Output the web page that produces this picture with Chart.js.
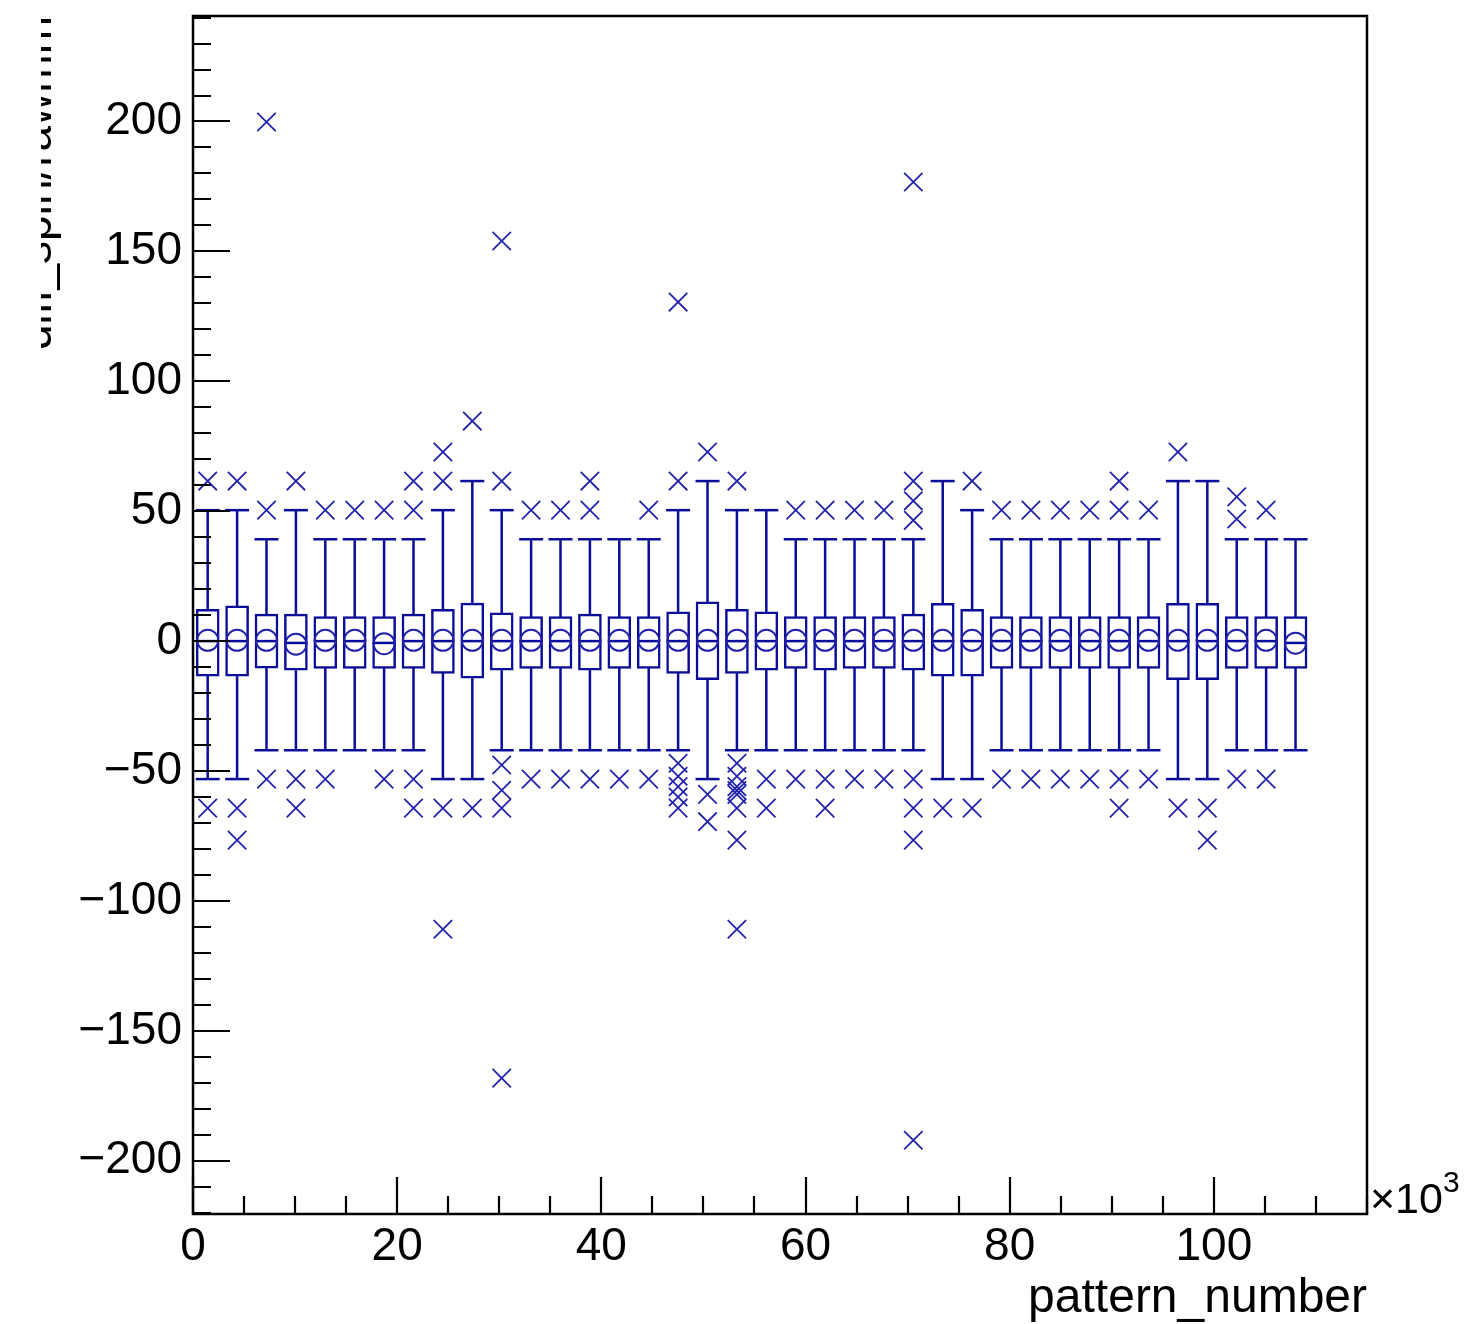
<!DOCTYPE html>
<html>
<head>
<meta charset="utf-8">
<script src="https://cdn.jsdelivr.net/npm/chart.js@4.4.1/dist/chart.umd.min.js"></script>
<style>
html, body { margin: 0; padding: 0; background: #fff; }
#wrap { position: relative; width: 1471px; height: 1324px; }
</style>
</head>
<body>
<div id="wrap"><canvas id="chart"></canvas></div>
<script>
"use strict";
// bin centres on pattern_number (x10^3)
var binCentres = [1.44, 4.32, 7.2, 10.08, 12.96, 15.84, 18.72, 21.6, 24.48, 27.36, 30.24, 33.12, 36.0, 38.88,
    41.76, 44.64, 47.52, 50.4, 53.28, 56.16, 59.04, 61.92, 64.8, 67.68, 70.56, 73.44, 76.32, 79.2, 82.08,
    84.96, 87.84, 90.72, 93.6, 96.48, 99.36, 102.24, 105.12, 108.0];
var boxHigh = [12.2, 13.6, 10.4, 10.4, 9.4, 9.4, 9.4, 10.4, 12.2, 14.6, 10.9, 9.4, 9.4, 10.4, 9.4, 9.4, 11.3, 15.1, 12.2,
    11.3, 9.4, 9.4, 9.4, 9.4, 10.4, 14.5, 12.2, 9.4, 9.4, 9.4, 9.4, 9.4, 9.4, 14.5, 14.5, 9.4, 9.4, 9.4];
var boxLow = [-13.5, -13.5, -10.4, -11.2, -10.5, -10.5, -10.5, -10.5, -12.4, -14.3, -11.2, -10.5, -10.5, -11.2, -10.5,
    -10.5, -12.4, -14.8, -12.4, -11.2, -10.5, -11.2, -10.5, -10.5, -11.2, -13.5, -13.5, -10.5, -10.5, -10.5, -10.5,
    -10.5, -10.5, -14.8, -14.8, -10.5, -10.5, -10.5];
var medians = [0, 0, 0, -0.7, 0, 0, -0.7, 0, 0, 0, 0, 0, 0, 0, 0, 0, 0, 0, 0, 0, 0, 0, 0, 0, 0, 0, 0, 0, 0, 0, 0, 0,
    0, 0, 0, 0, 0, -0.7];
var means = [0.3, 0.3, 0.3, -1.2, 0.3, 0.3, -1, 0.3, 0.3, 0.3, 0.3, 0.3, 0.3, 0.3, 0.3, 0.3, 0.3, 0.3, 0.3, 0.3, 0.3,
    0.3, 0.3, 0.3, 0.3, 0.3, 0.3, 0.3, 0.3, 0.3, 0.3, 0.3, 0.3, 0.3, 0.3, 0.3, 0.3, -0.8];
var whiskerHigh = [50.4, 50.4, 39.2, 50.4, 39.2, 39.2, 39.2, 39.2, 50.4, 61.6, 50.4, 39.2, 39.2, 39.2, 39.2, 39.2, 50.4,
    61.6, 50.4, 50.4, 39.2, 39.2, 39.2, 39.2, 39.2, 61.6, 50.4, 39.2, 39.2, 39.2, 39.2, 39.2, 39.2, 61.6, 61.6, 39.2,
    39.2, 39.2];
var whiskerLow = [-53.1, -53.1, -42, -42, -42, -42, -42, -42, -53.1, -53.1, -42, -42, -42, -42, -42, -42, -42, -53.1,
    -42, -42, -42, -42, -42, -42, -42, -53.1, -53.1, -42, -42, -42, -42, -42, -42, -53.1, -53.1, -42, -42, -42];
var outliers = [
    [61.6, -64.3],
    [61.6, -64.3, -76.6],
    [199.8, 50.4, -53.1],
    [61.6, -53.1, -64.3],
    [50.4, -53.1],
    [50.4],
    [50.4, -53.1],
    [61.6, 50.4, -53.1, -64.3],
    [72.8, 61.6, -64.3, -110.9],
    [84.7, -64.3],
    [154, 61.6, -47.7, -57.4, -64.3, -168.2],
    [50.4, -53.1],
    [50.4, -53.1],
    [61.6, 50.4, -53.1],
    [-53.1],
    [50.4, -53.1],
    [130.5, 61.6, -47, -52, -56, -60, -64.3],
    [72.8, -59, -69.5],
    [61.6, -47, -52, -56, -57.5, -59, -64.3, -76.6, -110.9],
    [-53.1, -64.3],
    [50.4, -53.1],
    [50.4, -53.1, -64.3],
    [50.4, -53.1],
    [50.4, -53.1],
    [176.7, 61.6, 54, 46.5, -53.1, -64.3, -76.6, -192.1],
    [-64.3],
    [61.6, -64.3],
    [50.4, -53.1],
    [50.4, -53.1],
    [50.4, -53.1],
    [50.4, -53.1],
    [61.6, 50.4, -53.1, -64.3],
    [50.4, -53.1],
    [72.8, -64.3],
    [-64.3, -76.6],
    [55.5, 47, -53.1],
    [50.4, -53.1],
    []
];
var xTickValues = [0, 20, 40, 60, 80, 100];
var yTickValues = [-200, -150, -100, -50, 0, 50, 100, 150, 200];

var blue = "#0c0c9a";
var fontFamily = "'Liberation Sans', Helvetica, Arial, sans-serif";

function points(ys) {
    return binCentres.map(function(x, i) { return { x: x, y: ys[i] }; });
}

var whiskerData = [];
binCentres.forEach(function(x, i) {
    whiskerData.push({ x: x, y: whiskerLow[i] }, { x: x, y: whiskerHigh[i] }, { x: x, y: null });
});
var boxData = binCentres.map(function(x, i) { return { x: x, y: [boxLow[i], boxHigh[i]] }; });
var capData = points(whiskerHigh).concat(points(whiskerLow));
var outlierData = [];
outliers.forEach(function(list, i) {
    list.forEach(function(v) { outlierData.push({ x: binCentres[i], y: v }); });
});

function signed(v) {
    return v < 0 ? "\u2212" + Math.abs(v) : String(v);
}

// ROOT-like frame, inward ticks and the clipped axis texts
var frame = {
    id: "frame",
    afterDraw: function(chart) {
        var ctx = chart.ctx, a = chart.chartArea, xs = chart.scales.x, ys = chart.scales.y;
        ctx.save();
        ctx.strokeStyle = "#000";
        ctx.lineWidth = 2.5;
        ctx.strokeRect(a.left, a.top, a.right - a.left, a.bottom - a.top);
        ctx.lineWidth = 2.2;
        ctx.beginPath();
        for (var v = -220; v <= 240; v += 10) {
            var y = Math.round(ys.getPixelForValue(v));
            var len = yTickValues.indexOf(v) >= 0 ? 37 : 18;
            ctx.moveTo(a.left, y);
            ctx.lineTo(a.left + len, y);
        }
        for (var u = 0; u <= 115; u += 5) {
            var x = Math.round(xs.getPixelForValue(u));
            var l = xTickValues.indexOf(u) >= 0 ? 37 : 18;
            ctx.moveTo(x, a.bottom);
            ctx.lineTo(x, a.bottom - l);
        }
        ctx.stroke();

        ctx.fillStyle = "#000";
        ctx.textAlign = "left";
        ctx.textBaseline = "alphabetic";
        ctx.font = "43px " + fontFamily;
        ctx.fillText("\u00d710", a.right + 3, a.bottom - 1);
        var w = ctx.measureText("\u00d710").width;
        ctx.font = "30px " + fontFamily;
        ctx.fillText("3", a.right + 3 + w, a.bottom - 22);

        ctx.beginPath();
        ctx.rect(41, 0, 60, chart.height);
        ctx.clip();
        ctx.translate(51, a.top);
        ctx.rotate(-Math.PI / 2);
        ctx.textAlign = "right";
        ctx.font = "46px " + fontFamily;
        ctx.fillText("diff_spin/rawmm", 0, 0);
        ctx.restore();
    }
};

new Chart(document.getElementById("chart"), {
    type: "scatter",
    data: {
        datasets: [{
            type: "line",
            data: whiskerData,
            borderColor: blue,
            borderWidth: 2.5,
            pointRadius: 0,
            fill: false,
            spanGaps: false,
            order: 5
        }, {
            type: "bar",
            data: boxData,
            backgroundColor: "#fff",
            borderColor: blue,
            borderWidth: 2.5,
            borderSkipped: false,
            barThickness: 23,
            order: 4
        }, {
            data: capData,
            pointStyle: "line",
            pointRadius: 12,
            borderColor: blue,
            borderWidth: 2.5,
            order: 3
        }, {
            data: points(medians),
            pointStyle: "line",
            pointRadius: 11.5,
            borderColor: blue,
            borderWidth: 2.5,
            order: 2
        }, {
            data: points(means),
            pointStyle: "circle",
            pointRadius: 10.5,
            backgroundColor: "rgba(0,0,0,0)",
            borderColor: "#2020a8",
            borderWidth: 2,
            order: 1
        }, {
            data: outlierData,
            pointStyle: "crossRot",
            pointRadius: 13,
            borderColor: "#2424aa",
            borderWidth: 1.8,
            order: 0
        }]
    },
    options: {
        responsive: true,
        maintainAspectRatio: false,
        animation: false,
        events: [],
        layout: { padding: { left: 0, top: 16, right: 104, bottom: 0 } },
        plugins: { legend: { display: false }, tooltip: { enabled: false } },
        scales: {
            x: {
                type: "linear",
                min: 0,
                max: 115,
                offset: false,
                grid: { display: false },
                border: { display: false },
                afterBuildTicks: function(s) { s.ticks = xTickValues.map(function(v) { return { value: v }; }); },
                afterFit: function(s) { s.height = 110; s.paddingLeft = 0; s.paddingRight = 0; },
                ticks: {
                    font: { family: fontFamily, size: 46 },
                    color: "#000",
                    padding: -2,
                    maxRotation: 0,
                    autoSkip: false,
                    callback: function(v) { return signed(v); }
                },
                title: {
                    display: true,
                    text: "pattern_number",
                    align: "end",
                    color: "#000",
                    font: { family: fontFamily, size: 48 },
                    padding: { top: 0, bottom: -4 }
                }
            },
            y: {
                type: "linear",
                min: -220.5,
                max: 240.6,
                grid: { display: false },
                border: { display: false },
                afterBuildTicks: function(s) { s.ticks = yTickValues.map(function(v) { return { value: v }; }); },
                afterFit: function(s) { s.width = 193; s.paddingTop = 0; s.paddingBottom = 0; },
                ticks: {
                    font: { family: fontFamily, size: 46 },
                    color: "#000",
                    padding: 3,
                    autoSkip: false,
                    callback: function(v) { return signed(v); }
                }
            }
        }
    },
    plugins: [frame]
});
</script>
</body>
</html>
